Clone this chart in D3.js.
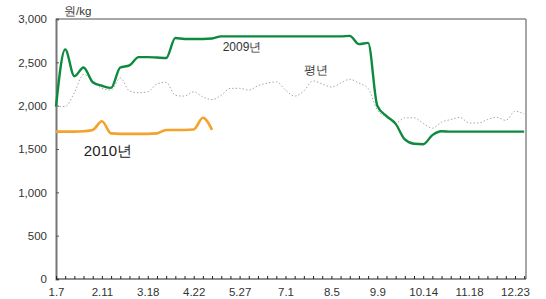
<!DOCTYPE html>
<html><head><meta charset="utf-8">
<script src="https://cdn.jsdelivr.net/npm/d3@7"></script>
<style>body{margin:0;background:#fff}svg{display:block;font-family:"Liberation Sans",Arial,sans-serif}</style>
</head><body><svg id="c" width="546" height="299"></svg>
<script>
const tickLabels = ["1.7","2.11","3.18","4.22","5.27","7.1","8.5","9.9","10.14","11.18","12.23"];
const yTicks = [0,500,1000,1500,2000,2500,3000];
const weekCount = 52;
const y2009 = [1990,2650,2340,2440,2270,2230,2205,2440,2465,2560,2560,2555,2550,2780,2770,2770,2770,2775,2800,2800,
  2800,2800,2800,2800,2800,2800,2800,2800,2800,2800,2800,2800,2805,2710,2725,2000,1880,1790,1610,1560,
  1555,1660,1705,1700,1700,1700,1700,1700,1700,1700,1700,1700];
const yAvg = [1990,1990,2150,2360,2290,2200,2180,2320,2170,2150,2160,2250,2270,2120,2110,2160,2100,2070,2120,2200,
  2200,2180,2230,2260,2275,2180,2110,2170,2285,2250,2215,2260,2304,2260,2200,1950,1870,1800,1860,1860,
  1796,1740,1810,1840,1865,1800,1800,1840,1865,1830,1935,1905];
const y2010 = [1700,1700,1700,1705,1720,1820,1680,1675,1675,1675,1675,1680,1720,1720,1720,1725,1860,1720];

const svg = d3.select("#c");
const x = d3.scaleLinear().domain([0, 51.2]).range([56, 526]);
const y = d3.scaleLinear().domain([0, 3000]).range([279, 19]);

// frame
svg.append("line").attr("x1",56).attr("x2",526).attr("y1",19).attr("y2",19).attr("stroke","#8a8a8a").attr("stroke-width",1.5);
svg.append("line").attr("x1",526).attr("x2",526).attr("y1",19).attr("y2",279).attr("stroke","#8a8a8a").attr("stroke-width",1.5);

// y axis
const ya = svg.append("g").attr("transform","translate(56,0)")
  .call(d3.axisLeft(y).tickValues(yTicks).tickSize(-3).tickPadding(9).tickFormat(d3.format(",")));
ya.select(".domain").attr("stroke","#777").attr("stroke-width",2);
ya.selectAll(".tick line").attr("stroke","#555");
ya.selectAll(".tick text").attr("font-size",11.5).attr("fill","#333").attr("font-family","Liberation Sans, Arial, sans-serif");

// x axis
const weeks = d3.range(weekCount);
const xa = svg.append("g").attr("transform","translate(0,279)")
  .call(d3.axisBottom(x).tickValues(weeks).tickSize(-3).tickPadding(9)
    .tickFormat(d => d % 5 === 0 && tickLabels[d/5] ? tickLabels[d/5] : ""));
xa.select(".domain").attr("stroke","#222").attr("stroke-width",1.2).attr("d","M56,0H526");
xa.selectAll(".tick line").attr("stroke","#222");
xa.selectAll(".tick text").attr("font-size",11.5).attr("fill","#333").attr("font-family","Liberation Sans, Arial, sans-serif");

const line = d3.line().x((d,i)=>x(i)).y(d=>y(d)).curve(d3.curveMonotoneX);

svg.append("path").datum(yAvg).attr("d",line).attr("fill","none").attr("stroke","#a8a8a8").attr("stroke-width",1).attr("stroke-dasharray","1.5,2");
svg.append("path").datum(y2009).attr("d",line).attr("fill","none").attr("stroke","#0e8a3e").attr("stroke-width",2.4).attr("stroke-linejoin","round");
svg.append("path").datum(y2010).attr("d",line).attr("fill","none").attr("stroke","#f4a22b").attr("stroke-width",2.6).attr("stroke-linejoin","round");

// labels
svg.append("text").attr("x",64).attr("y",15).attr("font-size",11.5).attr("fill","#333").text("원/kg");
svg.append("text").attr("x",242).attr("y",51).attr("text-anchor","middle").attr("font-size",12).attr("fill","#333").text("2009년");
svg.append("text").attr("x",316).attr("y",74).attr("text-anchor","middle").attr("font-size",12).attr("fill","#333").text("평년");
svg.append("text").attr("x",108).attr("y",156).attr("text-anchor","middle").attr("font-size",15).attr("fill","#222").text("2010년");
</script></body></html>
